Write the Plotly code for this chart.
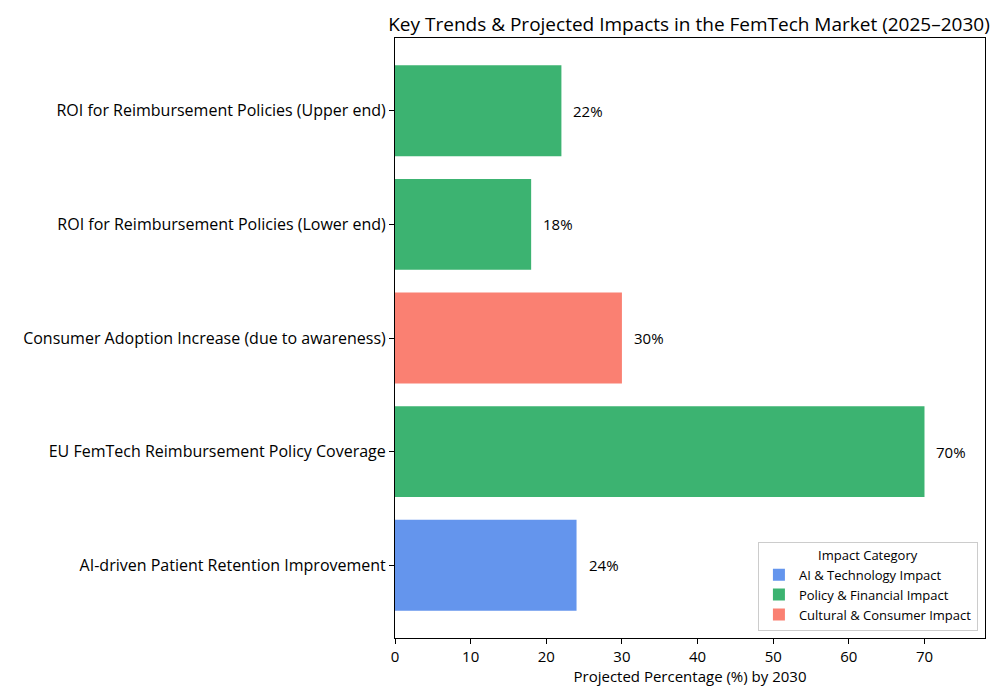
import plotly.graph_objects as go

categories = [
    "AI-driven Patient Retention Improvement",
    "EU FemTech Reimbursement Policy Coverage",
    "Consumer Adoption Increase (due to awareness)",
    "ROI for Reimbursement Policies (Lower end)",
    "ROI for Reimbursement Policies (Upper end)",
]
values = [24, 70, 30, 18, 22]
groups = [
    "AI & Technology Impact",
    "Policy & Financial Impact",
    "Cultural & Consumer Impact",
    "Policy & Financial Impact",
    "Policy & Financial Impact",
]
group_order = ["AI & Technology Impact", "Policy & Financial Impact", "Cultural & Consumer Impact"]
group_colors = {
    "AI & Technology Impact": "#6495ED",
    "Policy & Financial Impact": "#3CB371",
    "Cultural & Consumer Impact": "#FA8072",
}
x_ticks = [0, 10, 20, 30, 40, 50, 60, 70]

FONT = "Open Sans, sans-serif"

fig = go.Figure()
for g in group_order:
    ys = [c for c, gg in zip(categories, groups) if gg == g]
    xs = [v for v, gg in zip(values, groups) if gg == g]
    fig.add_trace(go.Bar(
        x=xs, y=ys, orientation="h", name=g,
        marker=dict(color=group_colors[g], line=dict(width=0)),
        width=0.8,
    ))

for c, v in zip(categories, values):
    fig.add_annotation(x=v, y=c, text=f"{v}%", showarrow=False,
                       xanchor="left", xshift=10,
                       font=dict(size=15, color="black", family=FONT))

fig.update_layout(
    width=1000, height=700,
    paper_bgcolor="white", plot_bgcolor="white",
    margin=dict(l=387, r=23, t=30, b=70),
    font=dict(family=FONT, color="black"),
    title=dict(text="Key Trends & Projected Impacts in the FemTech Market (2025–2030)",
               x=0.681, xref="container", xanchor="center",
               y=0.977, yref="container", yanchor="middle",
               font=dict(size=19, color="black", family=FONT)),
    barmode="overlay",
    showlegend=True,
    legend=dict(
        title=dict(text="Impact Category", side="top center", font=dict(size=13)),
        x=0.988, y=0.012, xanchor="right", yanchor="bottom",
        bgcolor="white", bordercolor="#cccccc", borderwidth=1,
        font=dict(size=13, family=FONT), traceorder="normal",
        itemwidth=30, tracegroupgap=0,
    ),
    xaxis=dict(
        range=[0, 78], tickvals=x_ticks, ticks="outside", ticklen=5, tickcolor="black",
        showline=True, linecolor="black", linewidth=1, mirror=True,
        showgrid=False, zeroline=False,
        tickfont=dict(size=15, family=FONT),
        title=dict(text="Projected Percentage (%) by 2030", font=dict(size=15, family=FONT), standoff=5),
    ),
    yaxis=dict(
        type="category", categoryorder="array", categoryarray=categories,
        range=[-0.64, 4.64], ticks="outside", ticklen=5, tickcolor="black",
        showline=True, linecolor="black", linewidth=1, mirror=True,
        showgrid=False, zeroline=False,
        tickfont=dict(size=16, family=FONT),
    ),
)

fig.write_html("out.html")
